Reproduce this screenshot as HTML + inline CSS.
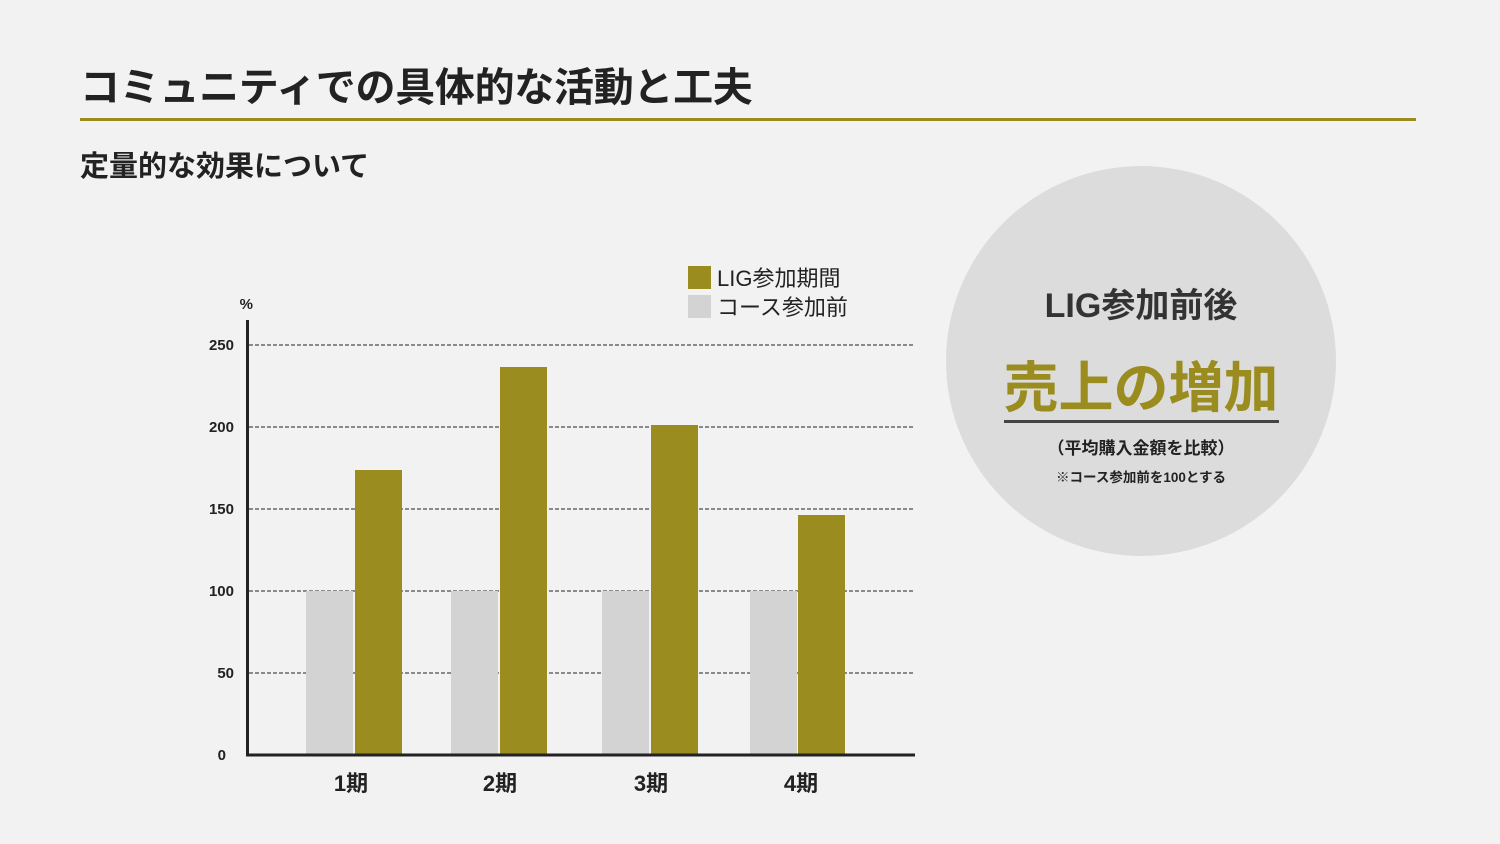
<!DOCTYPE html>
<html><head><meta charset="utf-8"><style>
body{margin:0;width:1500px;height:844px;background:#f2f2f2;overflow:hidden;font-family:"Liberation Sans","Noto Sans CJK JP",sans-serif;color:#222;position:relative}
.a{position:absolute;white-space:nowrap}
</style></head><body>
<div class="a" style="left:80px;top:62px;font-size:40px;font-weight:bold;line-height:52px;letter-spacing:-0.3px">コミュニティでの具体的な活動と工夫</div>
<div class="a" style="left:80px;top:118px;width:1336px;height:3px;background:#9a8c1e"></div>
<div class="a" style="left:80px;top:147px;font-size:29px;font-weight:bold;line-height:40px">定量的な効果について</div>
<svg class="a" style="left:0;top:0" width="1500" height="844">
<g stroke="#222" stroke-width="1" stroke-dasharray="4,2">
<line x1="249" y1="345" x2="914" y2="345"/><line x1="249" y1="427" x2="914" y2="427"/><line x1="249" y1="509" x2="914" y2="509"/><line x1="249" y1="591" x2="914" y2="591"/><line x1="249" y1="673" x2="914" y2="673"/>
</g>
<g fill="#d3d3d3"><rect x="306" y="591" width="47" height="164"/><rect x="451" y="591" width="47" height="164"/><rect x="602" y="591" width="47" height="164"/><rect x="750" y="591" width="47" height="164"/></g>
<g fill="#9a8c1e"><rect x="355" y="470" width="47" height="285"/><rect x="500" y="367" width="47" height="388"/><rect x="651" y="425" width="47" height="330"/><rect x="798" y="515" width="47" height="240"/></g>
<line x1="247.5" y1="320" x2="247.5" y2="756" stroke="#222" stroke-width="3"/>
<line x1="246" y1="755" x2="915" y2="755" stroke="#222" stroke-width="3"/>
<g font-size="15" font-weight="bold" text-anchor="end" fill="#222" font-family="Liberation Sans, Noto Sans CJK JP, sans-serif">
<text x="234" y="350">250</text><text x="234" y="432">200</text><text x="234" y="514">150</text><text x="234" y="596">100</text><text x="234" y="678">50</text><text x="226" y="760">0</text>
<text x="253" y="309">%</text></g>
<g font-size="22" font-weight="bold" text-anchor="middle" fill="#222" font-family="Liberation Sans, Noto Sans CJK JP, sans-serif">
<text x="351" y="791">1期</text><text x="500" y="791">2期</text><text x="651" y="791">3期</text><text x="801" y="791">4期</text></g>
<rect x="688" y="266" width="23" height="23" fill="#9a8c1e"/><rect x="688" y="295" width="23" height="23" fill="#d3d3d3"/>
<g font-size="22" fill="#222" font-family="Liberation Sans, Noto Sans CJK JP, sans-serif"><text x="717" y="286">LIG参加期間</text><text x="717" y="315">コース参加前</text></g>
<circle cx="1141" cy="361" r="195" fill="#dcdcdc"/>
<g text-anchor="middle" font-weight="bold" font-family="Liberation Sans, Noto Sans CJK JP, sans-serif">
<text x="1141" y="317" font-size="34" fill="#333">LIG参加前後</text>
<text x="1141" y="407" font-size="55" fill="#9a8c1e">売上の増加</text>
<text x="1141" y="454" font-size="17" fill="#222">（平均購入金額を比較）</text>
<text x="1141" y="482" font-size="13.5" fill="#222">※コース参加前を100とする</text></g>
<rect x="1004" y="420" width="275" height="3" fill="#444"/>
</svg>
</body></html>
